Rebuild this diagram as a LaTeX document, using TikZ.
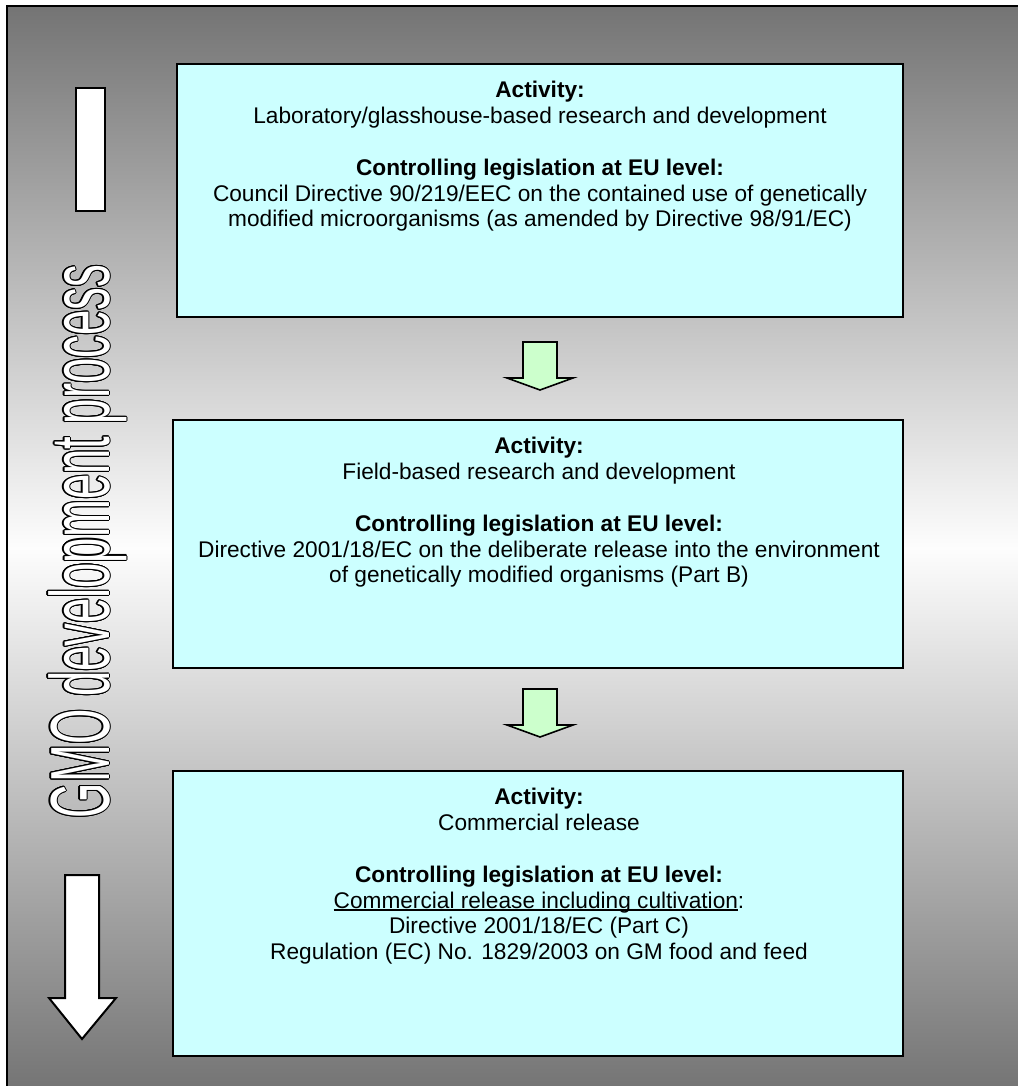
\documentclass[tikz,border=0pt]{standalone}
\usepackage{fontspec}
\setmainfont{Liberation Sans}
\usepackage{contour}
\contourlength{0.8pt}
\usetikzlibrary{calc}
\definecolor{boxcyan}{RGB}{204,255,255}
\definecolor{arrowgreen}{RGB}{204,255,204}
\definecolor{bgdark}{RGB}{116,116,116}
\definecolor{bglight}{RGB}{253,253,253}
\newcommand{\myul}[1]{\setbox0\hbox{#1}\rlap{\rule[-1.6pt]{\wd0}{0.9pt}}\box0}
\begin{document}
\begin{tikzpicture}[x=0.75pt,y=-0.75pt,
  box/.style={draw=black, line width=1.5pt, fill=boxcyan, anchor=north west, inner sep=0pt, outer sep=0pt},
  txt/.style={anchor=north, align=center, inner sep=0pt, font=\fontsize{17}{19.1}\selectfont},
  greenarrow/.style={draw=black, line width=1.2pt, fill=arrowgreen, line join=miter},
  whiteshape/.style={draw=black, line width=1.5pt, fill=white, line join=miter}]
\useasboundingbox (0,0) rectangle (1018,1086);
\begin{scope}
\clip (0,0) rectangle (1018,1086);
\shade[top color=bgdark, bottom color=bgdark, middle color=bglight] (7,6) rectangle (1030,1090);
\draw[line width=1.5pt] (7,1100) -- (7,6) -- (1030,6);
\end{scope}
% boxes
\node[box, minimum width=726*0.75pt, minimum height=253*0.75pt] (b1) at (177,64) {};
\node[box, minimum width=730*0.75pt, minimum height=248*0.75pt] (b2) at (173,420) {};
\node[box, minimum width=730*0.75pt, minimum height=285*0.75pt] (b3) at (173,771) {};
% texts
\node[txt] (t1) at ($(b1.north)+(0,17)$) {\textbf{Activity:}\\Laboratory/glasshouse-based research and development\\[20.5pt]\textbf{Controlling legislation at EU level:}\\Council Directive 90/219/EEC on the contained use of genetically\\modified microorganisms (as amended by Directive 98/91/EC)};
\node[txt] (t2) at ($(b2.north)+(1,17)$) {\textbf{Activity:}\\Field-based research and development\\[20.5pt]\textbf{Controlling legislation at EU level:}\\Directive 2001/18/EC on the deliberate release into the environment\\of genetically modified organisms (Part B)};
\node[txt] (t3) at ($(b3.north)+(1,17)$) {\textbf{Activity:}\\Commercial release\\[20.5pt]\textbf{Controlling legislation at EU level:}\\\myul{Commercial release including cultivation}:\\Directive 2001/18/EC (Part C)\\Regulation (EC) No. 1829/2003 on GM food and feed};
% green arrows between boxes
\draw[greenarrow] ($(b1.south)+(-17,25)$) -- ++(34,0) -- ++(0,36) -- ++(16,0) -- ++(-33,12) -- ++(-33,-12) -- ++(16,0) -- cycle;
\draw[greenarrow] ($(b2.south)+(-15,21)$) -- ++(34,0) -- ++(0,36) -- ++(16,0) -- ++(-33,12) -- ++(-33,-12) -- ++(16,0) -- cycle;
% left side decorations
\draw[whiteshape] (76,88) rectangle (105,211);
\draw[whiteshape] (65,875) -- (99,875) -- (99,998) -- (116,998) -- (82,1039) -- (49,998) -- (65,998) -- cycle;
\node[rotate=90, anchor=base, inner sep=0pt, font=\fontsize{63}{70}\selectfont] (title) at (109,541.5)
  {\color{white}\contour{black}{\scalebox{0.541}[1]{GMO development process}}};
\end{tikzpicture}
\end{document}
